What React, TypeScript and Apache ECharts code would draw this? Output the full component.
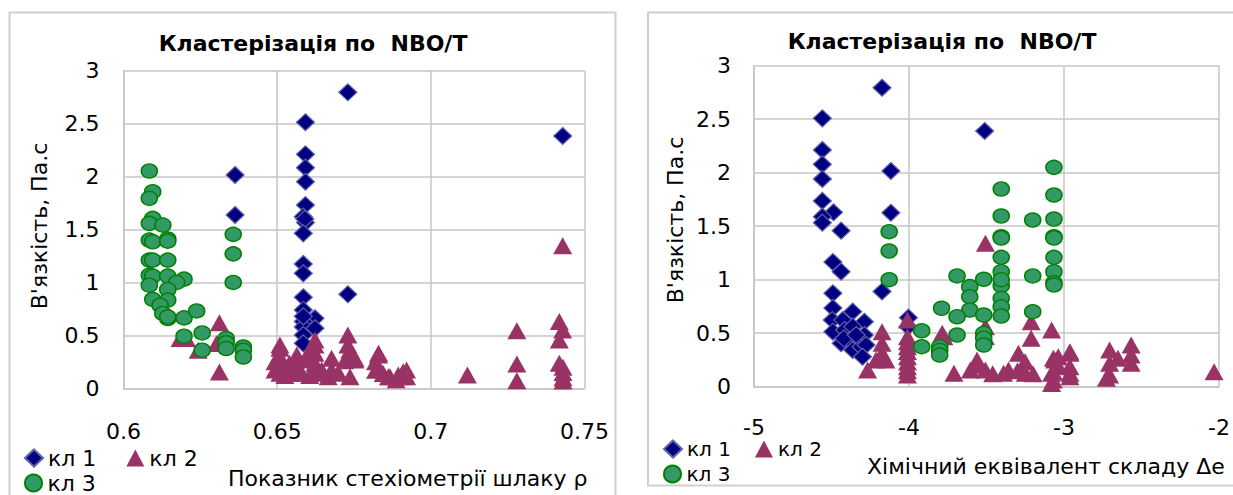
import React, { useEffect, useRef } from "react";
import * as echarts from "echarts";

const TITLE = "Кластерізація по  NBO/T";
const Y_NAME = "В'язкість, Па.с";
const X_NAME_LEFT = "Показник стехіометрії шлаку ρ";
const X_NAME_RIGHT = "Хімічний еквівалент складу Δe";
const NAMES = ["кл 1", "кл 2", "кл 3"];

// Left chart: x = показник стехіометрії ρ, y = в'язкість
const rhoKl1 = [
  [0.6363, 2.015], [0.6363, 1.637],
  [0.6592, 2.513], [0.6592, 2.21], [0.6592, 2.084], [0.6592, 1.951], [0.6592, 1.731],
  [0.6585, 1.621], [0.6592, 1.565], [0.659, 1.6], [0.6585, 1.464], [0.6585, 1.174],
  [0.6585, 1.086], [0.6585, 0.86], [0.6585, 0.74], [0.6623, 0.661], [0.6585, 0.63],
  [0.6585, 0.58], [0.6623, 0.567], [0.6585, 0.503], [0.6585, 0.425], [0.6585, 0.68],
  [0.673, 2.796], [0.673, 0.888], [0.7429, 2.383],
];
const rhoKl2 = [
  [0.6312, 0.618], [0.6184, 0.47], [0.6205, 0.47], [0.6243, 0.36], [0.6303, 0.423], [0.6312, 0.154],
  [0.6509, 0.41], [0.6509, 0.378], [0.6509, 0.3], [0.6509, 0.236], [0.6509, 0.142], [0.6493, 0.173],
  [0.6493, 0.25], [0.654, 0.236], [0.6547, 0.142], [0.6564, 0.315], [0.6564, 0.173], [0.658, 0.142],
  [0.659, 0.267], [0.6607, 0.362], [0.6623, 0.456], [0.6623, 0.409], [0.6623, 0.33], [0.6623, 0.236],
  [0.6623, 0.142], [0.6645, 0.173], [0.6677, 0.283], [0.6677, 0.173], [0.6666, 0.11], [0.67, 0.142],
  [0.6556, 0.2], [0.6606, 0.12], [0.6525, 0.12],
  [0.673, 0.503], [0.673, 0.409], [0.6737, 0.362], [0.6737, 0.33], [0.6753, 0.283], [0.6753, 0.267],
  [0.672, 0.26], [0.6737, 0.11],
  [0.683, 0.33], [0.683, 0.315], [0.682, 0.25], [0.682, 0.17], [0.6845, 0.14], [0.6862, 0.11],
  [0.6867, 0.11], [0.6894, 0.126], [0.691, 0.157], [0.6921, 0.173], [0.6921, 0.11], [0.6905, 0.11],
  [0.6887, 0.08],
  [0.7119, 0.126], [0.728, 0.544], [0.728, 0.23], [0.728, 0.072], [0.7429, 1.347], [0.7418, 0.63],
  [0.7429, 0.55], [0.7418, 0.456], [0.7418, 0.236], [0.743, 0.2], [0.743, 0.15], [0.743, 0.1], [0.743, 0.07],
];
const rhoKl3 = [
  [0.6084, 2.053], [0.6095, 1.857], [0.6084, 1.795], [0.6095, 1.605], [0.6084, 1.558], [0.6128, 1.542],
  [0.6084, 1.4], [0.6095, 1.384], [0.6144, 1.41], [0.6144, 1.39], [0.6084, 1.211], [0.6095, 1.211],
  [0.6144, 1.211], [0.6084, 1.069], [0.6095, 1.06], [0.6144, 1.06], [0.6197, 1.031], [0.6173, 1.0],
  [0.6084, 0.974], [0.6144, 0.934], [0.6095, 0.84], [0.6144, 0.833], [0.6119, 0.785], [0.6128, 0.707],
  [0.6144, 0.659], [0.6144, 0.675], [0.6197, 0.665], [0.6238, 0.731], [0.6197, 0.492], [0.6256, 0.523],
  [0.6256, 0.36], [0.6334, 0.47], [0.6334, 0.43], [0.6334, 0.376], [0.639, 0.39], [0.639, 0.36],
  [0.639, 0.296], [0.6357, 1.454], [0.6357, 1.27], [0.6357, 1.0],
];

// Right chart: x = хімічний еквівалент складу Δe, y = в'язкість
const deKl1 = [
  [-4.174, 2.794], [-4.559, 2.508], [-4.559, 2.212], [-4.559, 2.078], [-4.559, 1.941], [-4.559, 1.736],
  [-4.487, 1.63], [-4.559, 1.589], [-4.559, 1.533], [-4.438, 1.458], [-4.491, 1.165], [-4.438, 1.075],
  [-4.491, 0.873], [-4.491, 0.735], [-4.117, 2.016], [-4.117, 1.626], [-4.174, 0.89], [-4.004, 0.645],
  [-3.512, 2.39],
  [-4.495, 0.623], [-4.363, 0.701], [-4.427, 0.623], [-4.288, 0.607], [-4.491, 0.514], [-4.416, 0.53],
  [-4.363, 0.561], [-4.438, 0.406], [-4.384, 0.436], [-4.288, 0.483], [-4.363, 0.343], [-4.309, 0.374],
  [-4.277, 0.39], [-4.3, 0.28], [-4.42, 0.45], [-4.341, 0.483], [-4.006, 0.56],
];
const deKl2 = [
  [-4.174, 0.514], [-4.174, 0.405], [-4.174, 0.312], [-4.213, 0.25], [-4.267, 0.156], [-4.149, 0.25],
  [-4.01, 0.623], [-4.01, 0.467], [-4.01, 0.374], [-4.01, 0.28], [-4.01, 0.187], [-4.01, 0.109],
  [-4.01, 0.42], [-4.01, 0.33], [-4.01, 0.23], [-4.01, 0.15],
  [-3.786, 0.499], [-3.775, 0.467], [-3.507, 1.34], [-3.507, 0.561], [-3.507, 0.47], [-3.212, 0.607],
  [-3.212, 0.452], [-3.294, 0.312], [-3.08, 0.53], [-2.962, 0.327], [-3.037, 0.28], [-3.06, 0.25],
  [-3.251, 0.234], [-3.25, 0.125], [-3.358, 0.156], [-3.39, 0.125], [-3.561, 0.25], [-3.507, 0.156],
  [-3.604, 0.156], [-3.71, 0.125], [-3.08, 0.125], [-3.08, 0.03], [-2.962, 0.125], [-3.04, 0.19],
  [-3.069, 0.265], [-3.069, 0.14], [-3.069, 0.062], [-2.962, 0.312], [-2.962, 0.187], [-2.962, 0.093],
  [-2.706, 0.343], [-2.706, 0.218], [-2.706, 0.109], [-2.727, 0.078], [-2.652, 0.265], [-2.567, 0.39],
  [-2.567, 0.296], [-2.567, 0.218], [-2.032, 0.14], [-3.55, 0.2], [-3.46, 0.12], [-3.3, 0.15], [-3.2, 0.12],
];
const deKl3 = [
  [-4.128, 1.449], [-4.128, 1.268], [-4.128, 1.0], [-3.918, 0.523], [-3.918, 0.374], [-3.802, 0.374],
  [-3.802, 0.34], [-3.802, 0.296], [-3.79, 0.733], [-3.69, 1.035], [-3.608, 0.935], [-3.608, 0.841],
  [-3.608, 0.717], [-3.518, 1.004], [-3.518, 0.67], [-3.69, 0.654], [-3.69, 0.483], [-3.518, 0.499],
  [-3.518, 0.453], [-3.518, 0.39],
  [-3.065, 2.05], [-3.065, 1.792], [-3.065, 1.567], [-3.065, 1.402], [-3.065, 1.39], [-3.065, 1.209],
  [-3.065, 1.075], [-3.065, 0.972], [-3.065, 0.95],
  [-3.405, 1.848], [-3.405, 1.595], [-3.405, 1.402], [-3.405, 1.39], [-3.405, 1.209], [-3.405, 1.075],
  [-3.405, 0.944], [-3.405, 0.826], [-3.405, 0.748], [-3.405, 0.661], [-3.405, 1.0],
  [-3.202, 1.558], [-3.202, 1.035], [-3.202, 0.701],
];

const FONT = '"DejaVu Sans", "Noto Sans", sans-serif';
const GRID_COLOR = "#c6c6c6";

const STYLES = [
  { symbol: "diamond", symbolSize: [18, 17], itemStyle: { color: "#000080", borderColor: "#6060a8", borderWidth: 1.2, opacity: 1 } },
  { symbol: "triangle", symbolSize: [19, 17], itemStyle: { color: "#993366", opacity: 1 } },
  { symbol: "circle", symbolSize: [16, 14], itemStyle: { color: "#339966", borderColor: "#008000", borderWidth: 1.5, opacity: 1 } },
];

function makeSeries(data: number[][], i: number, axis: number) {
  return {
    type: "scatter",
    name: NAMES[i],
    data,
    xAxisIndex: axis,
    yAxisIndex: axis,
    symbol: STYLES[i].symbol,
    symbolSize: STYLES[i].symbolSize,
    itemStyle: STYLES[i].itemStyle,
    emphasis: { disabled: true },
  };
}

function text(t: string, x: number, y: number, size: number, opts: any = {}) {
  return {
    type: "text",
    x,
    y,
    rotation: opts.rotation || 0,
    style: {
      text: t,
      fill: "#000",
      fontSize: size,
      fontFamily: FONT,
      fontWeight: opts.bold ? "bold" : "normal",
      align: opts.align || "center",
      verticalAlign: "middle",
      textAlign: opts.align || "center",
      textVerticalAlign: "middle",
    },
  };
}

export default function App() {
  const ref = useRef<HTMLDivElement>(null);
  useEffect(() => {
    if (!ref.current) return;
    const chart = echarts.init(ref.current, undefined, { renderer: "svg" });
    const axisCommon = {
      axisLine: { show: true, lineStyle: { color: GRID_COLOR, width: 1.5 } },
      axisTick: { show: false },
      splitLine: { show: true, lineStyle: { color: GRID_COLOR, width: 1.5 } },
    };
    const legendCommon = {
      orient: "horizontal",
      padding: 0,
      itemWidth: 18,
      itemHeight: 17,
      selectedMode: false,
      textStyle: { fontFamily: FONT, color: "#000" },
    };
    chart.setOption({
      animation: false,
      backgroundColor: "#fff",
      grid: [
        { left: 123.5, top: 70.7, width: 461, height: 317.6 },
        { left: 754, top: 65.7, width: 467.7, height: 321 },
      ],
      xAxis: [
        {
          type: "value", gridIndex: 0, min: 0.6, max: 0.75, interval: 0.05,
          ...axisCommon,
          axisLabel: { fontSize: 22, fontFamily: FONT, color: "#000", margin: 32 },
        },
        {
          type: "value", gridIndex: 1, min: -5, max: -2, interval: 1,
          ...axisCommon,
          axisLabel: { fontSize: 22, fontFamily: FONT, color: "#000", margin: 30 },
        },
      ],
      yAxis: [
        {
          type: "value", gridIndex: 0, min: 0, max: 3, interval: 0.5,
          ...axisCommon,
          axisLabel: { fontSize: 22, fontFamily: FONT, color: "#000", margin: 24 },
        },
        {
          type: "value", gridIndex: 1, min: 0, max: 3, interval: 0.5,
          ...axisCommon,
          axisLabel: { fontSize: 22, fontFamily: FONT, color: "#000", margin: 23 },
        },
      ],
      legend: [
        { ...legendCommon, data: [NAMES[0], NAMES[1]], left: 24, top: 447, itemGap: 30, textStyle: { ...legendCommon.textStyle, fontSize: 22 } },
        { ...legendCommon, data: [NAMES[2]], left: 24, top: 472, textStyle: { ...legendCommon.textStyle, fontSize: 22 } },
        { ...legendCommon, data: [NAMES[0], NAMES[1]], left: 663, top: 439, itemGap: 24, textStyle: { ...legendCommon.textStyle, fontSize: 20 } },
        { ...legendCommon, data: [NAMES[2]], left: 663, top: 464, textStyle: { ...legendCommon.textStyle, fontSize: 20 } },
      ],
      graphic: [
        { type: "rect", shape: { x: 9.5, y: 12.5, width: 606, height: 500 }, style: { fill: "none", stroke: "#d0d0d0", lineWidth: 2 } },
        { type: "rect", shape: { x: 648, y: 12.5, width: 600, height: 473 }, style: { fill: "none", stroke: "#d0d0d0", lineWidth: 2 } },
        text(TITLE, 313, 43, 22, { bold: true }),
        text(TITLE, 942, 41, 22, { bold: true }),
        text(Y_NAME, 39, 226, 22, { rotation: Math.PI / 2 }),
        text(Y_NAME, 675, 220, 22, { rotation: Math.PI / 2 }),
        text(X_NAME_LEFT, 228, 478, 22, { align: "left" }),
        text(X_NAME_RIGHT, 867, 466, 22, { align: "left" }),
      ],
      series: [
        makeSeries(rhoKl1, 0, 0),
        makeSeries(rhoKl2, 1, 0),
        makeSeries(rhoKl3, 2, 0),
        makeSeries(deKl1, 0, 1),
        makeSeries(deKl2, 1, 1),
        makeSeries(deKl3, 2, 1),
      ],
    });
    return () => chart.dispose();
  }, []);
  return (
    <div
      ref={ref}
      style={{ position: "fixed", left: 0, top: 0, width: 1233, height: 495, background: "#fff" }}
    />
  );
}
